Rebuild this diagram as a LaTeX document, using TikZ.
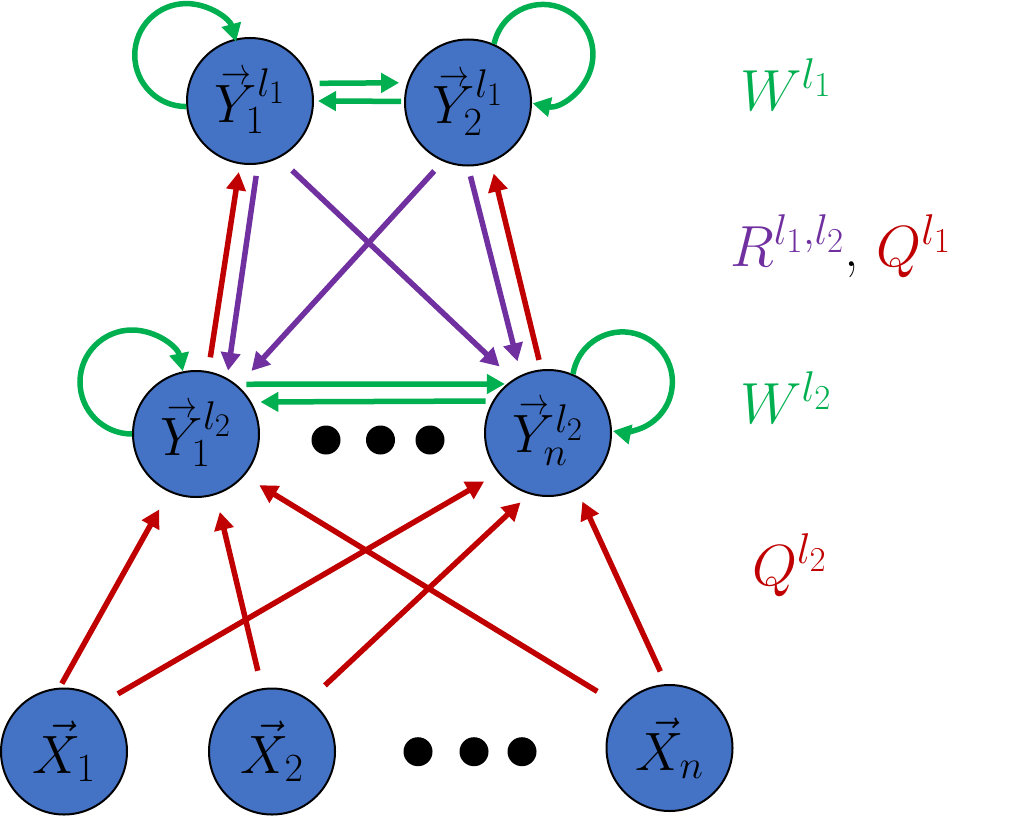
\RequirePackage{fix-cm}
\documentclass[tikz,border=0pt]{standalone}
\usepackage{amsmath}
\usepackage{graphicx}
\usetikzlibrary{arrows.meta}
\definecolor{nodeblue}{HTML}{4472C4}
\definecolor{pgreen}{HTML}{00B050}
\definecolor{pred}{HTML}{C00000}
\definecolor{ppurple}{HTML}{7030A0}
\DeclareMathSizes{54}{54}{40}{33}
\DeclareMathSizes{58}{58}{43}{35}
\newcommand{\vY}{\rlap{\hspace{0.12em}\raisebox{0.7em}{\scalebox{0.55}[0.7]{$\rightarrow$}}}Y}
\begin{document}
\begin{tikzpicture}[x=1pt,y=1pt,
  unit/.style={circle, draw=black, line width=2pt, fill=nodeblue, minimum size=126pt, inner sep=0pt, font=\fontsize{54}{58}\selectfont},
  tipstyle/.style={-{Triangle[length=18pt,width=19pt]}},
  garr/.style={draw=pgreen, line width=5.5pt, tipstyle},
  rarr/.style={draw=pred, line width=5.5pt, tipstyle},
  parr/.style={draw=ppurple, line width=5.5pt, tipstyle},
  dotn/.style={circle, fill=black, minimum size=29pt, inner sep=0pt},
  lab/.style={font=\fontsize{58}{62}\selectfont, anchor=base west, inner sep=0pt}
]
\useasboundingbox (0,0) rectangle (1016,-816);

% nodes
\node[unit] (ya) at (250,-101)   {$\vY^{l_1}_1$};
\node[unit] (yb) at (468,-102.5) {$\vY^{l_1}_2$};
\node[unit] (yc) at (196,-434)   {$\vY^{l_2}_1$};
\node[unit] (yd) at (548,-433)   {$\vY^{l_2}_n$};
\node[unit] (x1) at (64,-751.5)  {$\vec{X}_1$};
\node[unit] (x2) at (272,-751.5) {$\vec{X}_2$};
\node[unit] (xn) at (669.5,-748) {$\vec{X}_n$};

% dots
\node[dotn] (m1) at (326,-440) {};
\node[dotn] (m2) at (380.5,-440) {};
\node[dotn] (m3) at (430,-440) {};
\node[dotn] (b1) at (418,-751.7) {};
\node[dotn] (b2) at (474,-751.7) {};
\node[dotn] (b3) at (522,-751.7) {};

% labels
\node[lab, text=pgreen] (lw1) at (740,-110) {$W^{l_1}$};
\node[lab] (lrq) at (730,-266) {\textcolor{ppurple}{$R^{l_1,l_2}$}, \textcolor{pred}{$Q^{l_1}$}};
\node[lab, text=pgreen] (lw2) at (740,-423) {$W^{l_2}$};
\node[lab, text=pred] (lq2) at (752,-585) {$Q^{l_2}$};

% green self loops
\draw[garr] (ya.185) arc[start angle=270, end angle=15, radius=51.5];
\draw[garr] (yc.west) arc[start angle=270, end angle=12, radius=52];
\draw[garr] (yb.66) arc[start angle=168, end angle=-102, radius=50];
\draw[garr] (yd.67) arc[start angle=171, end angle=-101, radius=50];

% green lateral
\draw[garr, shorten <=8pt, shorten >=8pt] (ya.16) -- (yb.162);
\draw[garr, shorten <=3pt, shorten >=4pt] (yb.179) -- (ya.0);
\draw[garr, shorten <=10pt, shorten >=2pt] (yc.51) -- (yd.130);
\draw[garr, shorten <=7pt, shorten >=9pt] (yd.150) -- (yc.30);

% between layers
\draw[rarr, shorten <=14pt, shorten >=8pt] (yc.79.5) -- (ya.261);
\draw[parr, shorten <=11.5pt, shorten >=7.4pt] (ya.277) -- (yc.61.8);
\draw[parr, shorten <=18pt, shorten >=18.7pt] (ya.297) -- (yd.123.7);
\draw[parr, shorten <=13pt, shorten >=20pt] (yb.247.6) -- (yc.49.4);
\draw[parr, shorten <=10pt, shorten >=14pt] (yb.270) -- (yd.115.3);
\draw[rarr, shorten <=9.7pt, shorten >=11.6pt] (yd.96.3) -- (yb.291);

% inputs
\draw[rarr, shorten <=4.7pt, shorten >=20pt] (x1.94.8) -- (yc.245.6);
\draw[rarr, shorten <=15.8pt, shorten >=16.3pt] (x1.51.3) -- (yd.219.4);
\draw[rarr, shorten <=18pt, shorten >=17.5pt] (x2.99.9) -- (yc.288.6);
\draw[rarr, shorten <=21pt, shorten >=12pt] (x2.54) -- (yd.253.7);
\draw[rarr, shorten <=28pt, shorten >=17.6pt] (xn.139.3) -- (yc.319.5);
\draw[rarr, shorten <=14pt, shorten >=12.7pt] (xn.93.3) -- (yd.297.8);
\end{tikzpicture}
\end{document}
